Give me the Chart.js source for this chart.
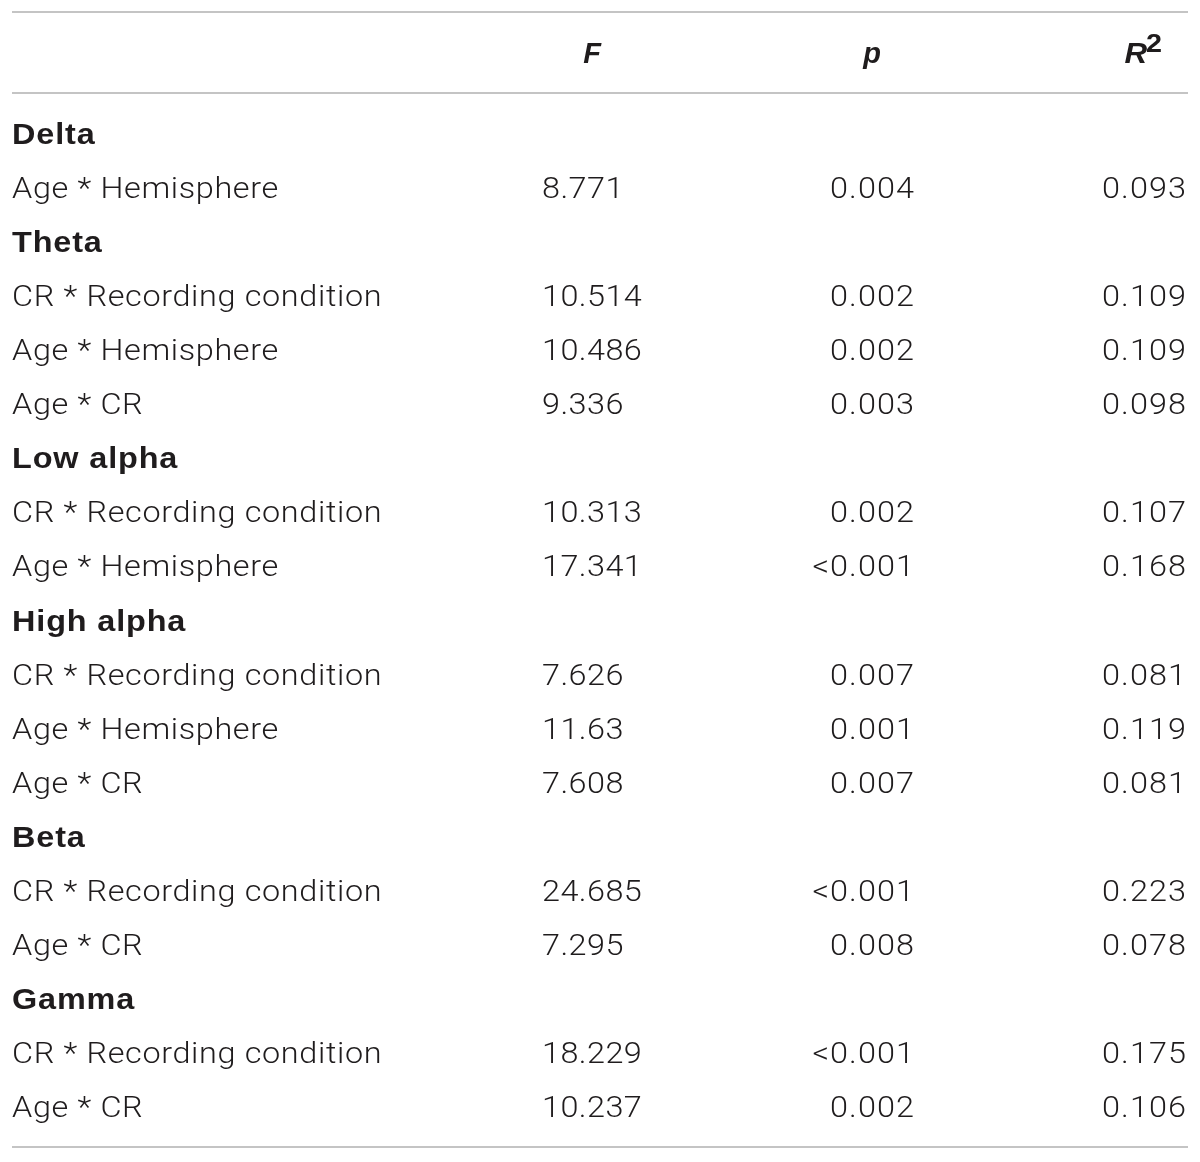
<!DOCTYPE html>
<html>
<head>
<meta charset="utf-8">
<script src="https://cdn.jsdelivr.net/npm/chart.js@4/dist/chart.umd.min.js"></script>
<style>
  html, body { margin: 0; padding: 0; background: #fff; }
  #wrap { width: 1200px; height: 1162px; position: relative; }
</style>
</head>
<body>
<div id="wrap"><canvas id="tbl"></canvas></div>
<script>
// table rows, top to bottom (group headings have no values)
const rowLabels = [
  'Delta', 'Age * Hemisphere',
  'Theta', 'CR * Recording condition', 'Age * Hemisphere', 'Age * CR',
  'Low alpha', 'CR * Recording condition', 'Age * Hemisphere',
  'High alpha', 'CR * Recording condition', 'Age * Hemisphere', 'Age * CR',
  'Beta', 'CR * Recording condition', 'Age * CR',
  'Gamma', 'CR * Recording condition', 'Age * CR',
];
const isGroup = [
  true, false,
  true, false, false, false,
  true, false, false,
  true, false, false, false,
  true, false, false,
  true, false, false,
];
const fValues = [
  null, '8.771',
  null, '10.514', '10.486', '9.336',
  null, '10.313', '17.341',
  null, '7.626', '11.63', '7.608',
  null, '24.685', '7.295',
  null, '18.229', '10.237',
];
const pValues = [
  null, '0.004',
  null, '0.002', '0.002', '0.003',
  null, '0.002', '<0.001',
  null, '0.007', '0.001', '0.007',
  null, '<0.001', '0.008',
  null, '<0.001', '0.002',
];
const r2Values = [
  null, 0.093,
  null, 0.109, 0.109, 0.098,
  null, 0.107, 0.168,
  null, 0.081, 0.119, 0.081,
  null, 0.223, 0.078,
  null, 0.175, 0.106,
];
const columnHeads = ['F', 'p', 'R'];

const INK = '#1f1c1d';
const RULE = '#c4c4c4';
const FS = 30;
const STRETCH = 1.08;
const LIGHT = '300 ' + FS + 'px Roboto, "Liberation Sans", sans-serif';
const BOLD = 'bold ' + FS + 'px "Liberation Sans", Arial, sans-serif';
const HEAD = 'italic bold 29px "Liberation Sans", Arial, sans-serif';

const colX = { label: 12, f: 542, p: 914, r2: 1186 };

// text widened a little to get closer to the wide original face
function drawText(ctx, text, x, y, align, spacing, sx = STRETCH) {
  ctx.save();
  ctx.translate(x, y);
  ctx.scale(sx, 1);
  ctx.letterSpacing = spacing + 'px';
  ctx.textAlign = align;
  // canvas letterSpacing leaves trailing space on right-aligned text
  ctx.fillText(text, align === 'right' ? spacing : 0, 0);
  ctx.restore();
}

const tablePlugin = {
  id: 'tableText',
  afterDraw(chart) {
    const { ctx, chartArea } = chart;
    const y = chart.scales.y;
    const half = 10.5;
    ctx.save();

    // rules
    ctx.strokeStyle = RULE;
    ctx.lineWidth = 2;
    const rules = [12, chartArea.top - 13, chartArea.bottom + 13];
    rules.forEach((ry) => {
      ctx.beginPath();
      ctx.moveTo(12, ry);
      ctx.lineTo(1188, ry);
      ctx.stroke();
    });

    // header row
    ctx.fillStyle = INK;
    ctx.textBaseline = 'alphabetic';
    const hy = 63;
    ctx.font = HEAD;
    drawText(ctx, columnHeads[0], 592, hy, 'center', 0, 1);
    drawText(ctx, columnHeads[1], 872, hy, 'center', 0, 1);
    drawText(ctx, columnHeads[2], 1147, hy, 'right', 0, 1.08);
    ctx.font = 'bold 25px "Liberation Sans", Arial, sans-serif';
    drawText(ctx, '2', 1146, hy - 11, 'left', 0, 1.15);

    // body rows
    rowLabels.forEach((label, i) => {
      const cy = y.getPixelForValue(i) + half;
      ctx.font = isGroup[i] ? BOLD : LIGHT;
      drawText(ctx, label, colX.label, cy, 'left', isGroup[i] ? 0.8 : 0.6);
      if (isGroup[i]) return;
      drawText(ctx, fValues[i], colX.f, cy, 'left', 0.4);
      drawText(ctx, pValues[i], colX.p, cy, 'right', 1);
      drawText(ctx, r2Values[i].toFixed(3), colX.r2, cy, 'right', 1);
    });
    ctx.restore();
  },
};

new Chart(document.getElementById('tbl'), {
  type: 'scatter',
  data: { labels: rowLabels, datasets: [{ data: [] }] },
  options: {
    responsive: true,
    maintainAspectRatio: false,
    animation: false,
    events: [],
    layout: { padding: { top: 106, bottom: 28, left: 0, right: 0 } },
    plugins: { legend: { display: false }, tooltip: { enabled: false } },
    scales: {
      x: { type: 'linear', display: false, min: 0, max: 1 },
      y: { type: 'category', labels: rowLabels, offset: true, display: false },
    },
  },
  plugins: [tablePlugin],
});
</script>
</body>
</html>
